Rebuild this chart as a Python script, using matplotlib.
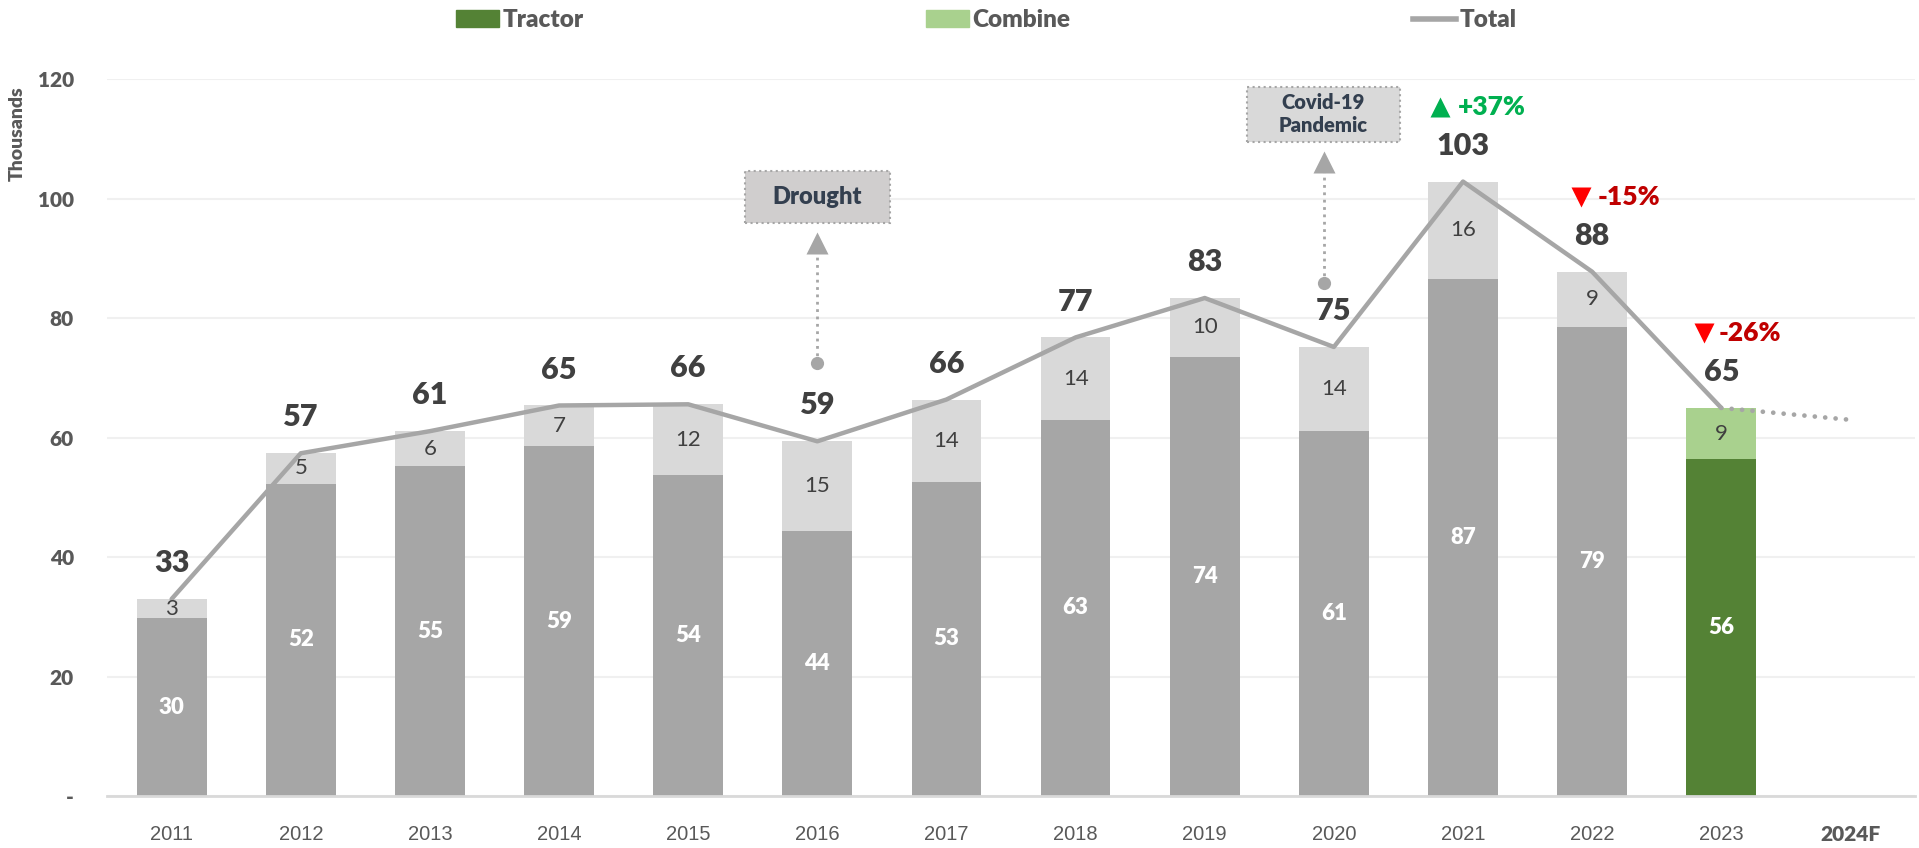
import numpy as np
import matplotlib
matplotlib.use("Agg")
import matplotlib.pyplot as plt
from matplotlib.patches import Rectangle, Patch
from matplotlib.lines import Line2D

plt.rcParams['font.family'] = ['Lato', 'DejaVu Sans']

years = ['2011', '2012', '2013', '2014', '2015', '2016', '2017',
         '2018', '2019', '2020', '2021', '2022', '2023', '2024F']
tractor = [29.8, 52.3, 55.2, 58.6, 53.8, 44.3, 52.6, 63.0, 73.6, 61.1, 86.6, 78.6, 56.4]
combine = [3.2, 5.1, 5.9, 6.8, 11.8, 15.1, 13.8, 13.8, 9.8, 14.1, 16.3, 9.2, 8.6]
forecast_2024 = 63.0
yticks = [0, 20, 40, 60, 80, 100, 120]
ytick_labels = ['-', '20', '40', '60', '80', '100', '120']

# percent change labels on the last three years
pct_years = [10, 11, 12]
# event boxes: text, x, dot y, box bottom, box top, box width
events = [('Drought', 5.0, 72.5, 95.9, 104.6, 1.12),
          ('Covid-19\nPandemic', 8.92, 85.9, 109.6, 118.8, 1.19)]

GREY = '#a6a6a6'
LGREY = '#d9d9d9'
GREEN = '#548235'
LGREEN = '#a9d18e'
TXT = '#595959'
BOLD = 'heavy'

tractor = np.array(tractor)
combine = np.array(combine)
total = tractor + combine
n = len(tractor)
x = np.arange(n)

fig = plt.figure(figsize=(19.19, 8.48), dpi=100)
ax = fig.add_axes([0.0558, 0.0613, 0.9421, 0.8450])

tc = [GREY] * (n - 1) + [GREEN]
cc = [LGREY] * (n - 1) + [LGREEN]
ax.bar(x, tractor, width=0.54, color=tc, zorder=2)
ax.bar(x, combine, width=0.54, bottom=tractor, color=cc, zorder=2)

ax.plot(x, total, color=GREY, lw=3.2, zorder=3, solid_capstyle='round')
ax.plot([x[-1], n], [total[-1], forecast_2024], color=GREY, lw=3.4,
        linestyle=(0, (0.01, 2.2)), dash_capstyle='round', zorder=3)

for i in range(n):
    ax.text(x[i], tractor[i] / 2, f'{tractor[i]:.0f}', ha='center', va='center',
            color='white', fontsize=16, fontweight=BOLD, zorder=4)
    ax.text(x[i], tractor[i] + combine[i] / 2, f'{combine[i]:.0f}', ha='center',
            va='center', color='#404040', fontsize=16, zorder=4)
    ax.text(x[i], total[i] + 6, f'{total[i]:.0f}', ha='center', va='center',
            color='#404040', fontsize=22, fontweight=BOLD, zorder=4)

tri_dx = {10: -0.18, 11: -0.09, 12: -0.13}
txt_dx = {10: -0.04, 11: 0.04, 12: -0.02}
for i in pct_years:
    ch = total[i] / total[i - 1] - 1
    up = ch > 0
    y = total[i] + 12.5
    ax.plot(x[i] + tri_dx[i], y, marker='^' if up else 'v', ms=15,
            color='#00b050' if up else '#ff0000', mec='none', zorder=4, clip_on=False)
    ax.text(x[i] + txt_dx[i], y, f'{ch * 100:+.0f}%', ha='left', va='center',
            color='#00b050' if up else '#c00000', fontsize=19, fontweight=BOLD, zorder=4)

for label, ex, dot_y, b0, b1, w in events:
    base = b0 - 5.0
    ax.plot([ex, ex], [dot_y, base], color=GREY, lw=2, linestyle=':', zorder=3)
    ax.plot(ex, dot_y, 'o', ms=9.5, color=GREY, mec='none', zorder=4)
    ax.plot(ex, base + 1.65, '^', ms=16, color=GREY, mec='none', zorder=4)
    fc = '#d0cece' if label == 'Drought' else LGREY
    ax.add_patch(Rectangle((ex - w / 2, b0), w, b1 - b0, facecolor=fc,
                           edgecolor='#a6a6a6', linestyle=':', lw=1.5, zorder=4))
    ax.text(ex, (b0 + b1) / 2, label, ha='center', va='center', color='#333f4f',
            fontsize=17 if label == 'Drought' else 14.5, fontweight=BOLD,
            linespacing=1.25, zorder=5)

ax.set_xlim(-0.5, n + 0.5)
ax.set_ylim(0, 120)
ax.set_xticks(np.arange(len(years)))
ax.set_xticklabels(years)
for t in ax.get_xticklabels():
    t.set_fontfamily(['Liberation Sans', 'DejaVu Sans'])
    t.set_fontsize(14.5)
    t.set_color(TXT)
last = ax.get_xticklabels()[-1]
last.set_fontfamily(['Lato', 'DejaVu Sans'])
last.set_fontweight(BOLD)
last.set_fontsize(15)
ax.set_yticks(yticks)
ax.set_yticklabels(ytick_labels, fontsize=15, fontweight=BOLD, color=TXT)
ax.tick_params(axis='x', length=0, pad=21)
ax.tick_params(axis='y', length=0, pad=24)
ax.grid(axis='y', color='#f0f0f0', lw=1.5, zorder=0)
ax.set_axisbelow(True)
for s in ['top', 'right', 'left']:
    ax.spines[s].set_visible(False)
ax.spines['bottom'].set_color(LGREY)
ax.spines['bottom'].set_linewidth(2)

fig.text(17 / 1919, 1 - 134 / 848, 'Thousands', rotation=90, ha='center', va='center',
         fontsize=14, fontweight=BOLD, color=TXT)

handles = [Patch(color=GREEN, label='Tractor'),
           Patch(color=LGREEN, label='Combine'),
           Line2D([0], [0], color=GREY, lw=4, label='Total')]
leg = fig.legend(handles=handles, ncol=3, loc='center', bbox_to_anchor=(0.514, 0.976),
                 frameon=False, fontsize=17.5, handlelength=1.75, handletextpad=0.15,
                 columnspacing=14.1, borderaxespad=0)
for t in leg.get_texts():
    t.set_color(TXT)
    t.set_fontweight(BOLD)

fig.savefig('out.png', dpi=100)
